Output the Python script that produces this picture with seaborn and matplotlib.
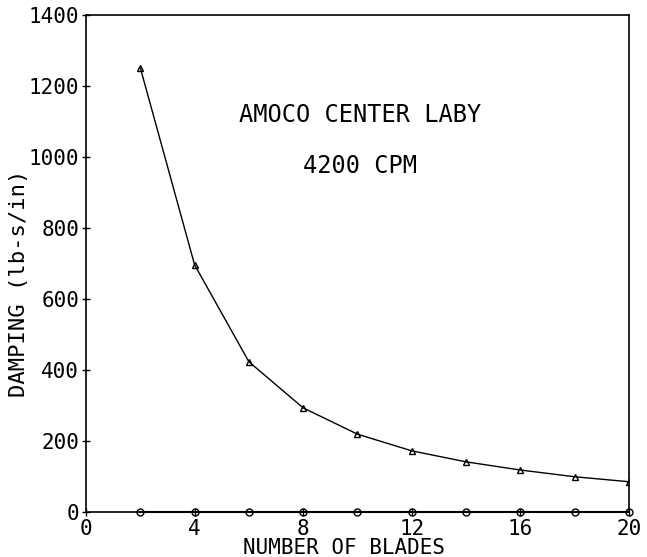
import matplotlib
matplotlib.use('Agg')
import pandas as pd
import seaborn as sns
import matplotlib.pyplot as plt

# data
blades = [2, 4, 6, 8, 10, 12, 14, 16, 18, 20]
damping_tri = [1251, 696, 423, 293, 219, 172, 141, 118, 99, 85]
damping_circ = [0, 0, 0, 0, 0, 0, 0, 0, 0, 0]
xticks = [0, 4, 8, 12, 16, 20]
yticks = [0, 200, 400, 600, 800, 1000, 1200, 1400]

df = pd.DataFrame({'blades': blades, 'tri': damping_tri, 'circ': damping_circ})

sns.set_style('ticks', {'text.color': 'black', 'axes.labelcolor': 'black',
                        'xtick.color': 'black', 'ytick.color': 'black'})
plt.rcParams['font.family'] = ['DejaVu Sans Mono']

fig = plt.figure(figsize=(6.47, 5.57), dpi=100)
ax = fig.add_axes([0.133, 0.081, 0.839, 0.892])

sns.lineplot(data=df, x='blades', y='tri', ax=ax, color='black', lw=1,
             marker='^', markersize=5, markerfacecolor='none',
             markeredgecolor='black', markeredgewidth=1)
sns.lineplot(data=df, x='blades', y='circ', ax=ax, color='black', lw=1.5,
             marker='o', markersize=5, markerfacecolor='none',
             markeredgecolor='black', markeredgewidth=1, clip_on=False)

ax.set_xlim(0, 20)
ax.set_ylim(0, 1400)
ax.set_xticks(xticks)
ax.set_yticks(yticks)
ax.tick_params(direction='inout', length=6, width=1, labelsize=15, pad=2)
for s in ax.spines.values():
    s.set_linewidth(1.2)
    s.set_color('black')

ax.set_xlabel('NUMBER OF BLADES', fontsize=15)
ax.xaxis.set_label_coords(0.475, -0.052)
ax.set_ylabel('DAMPING (lb-s/in)', fontsize=16)
ax.yaxis.set_label_coords(-0.105, 0.46)

ax.text(10.1, 1118, 'AMOCO CENTER LABY', ha='center', va='center', fontsize=17, color='black')
ax.text(10.1, 975, '4200 CPM', ha='center', va='center', fontsize=17, color='black')

fig.savefig('out.png', dpi=100)
